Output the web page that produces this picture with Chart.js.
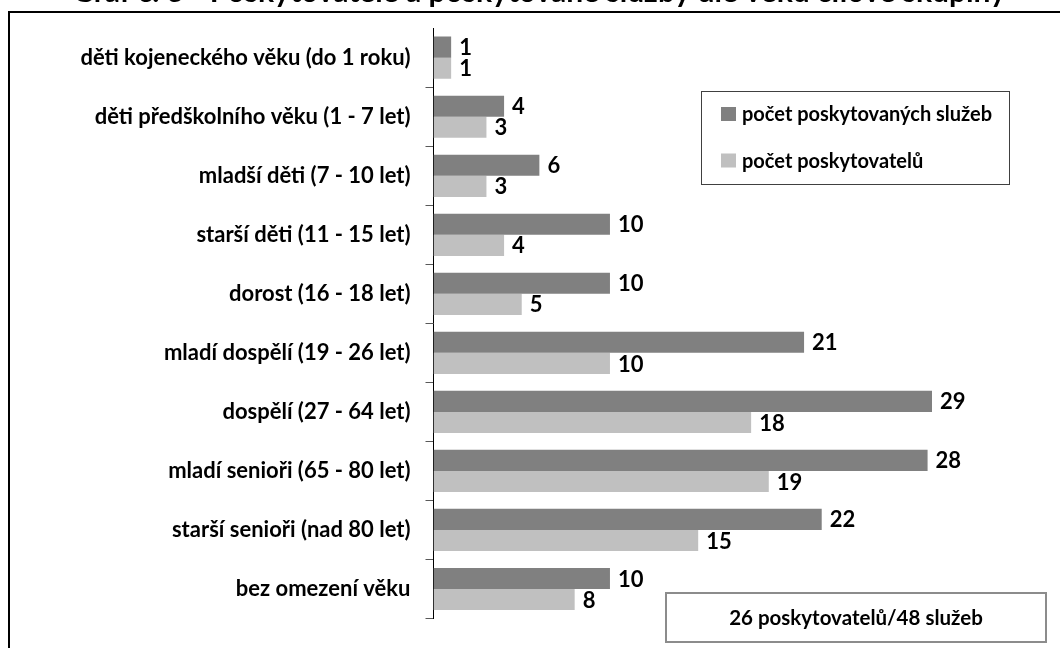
<!DOCTYPE html>
<html>
<head>
<meta charset="utf-8">
<script src="https://cdn.jsdelivr.net/npm/chart.js@4/dist/chart.umd.min.js"></script>
<style>
  html, body { margin: 0; padding: 0; background: #ffffff; }
  #wrap { position: relative; width: 1060px; height: 648px; }
</style>
</head>
<body>
<div id="wrap"><canvas id="c" width="1060" height="648"></canvas></div>
<script>
const chartTitle = 'Graf č. 3 - Poskytovatelé a poskytované služby dle věku cílové skupiny';
const categories = [
  'děti kojeneckého věku (do 1 roku)',
  'děti předškolního věku (1 - 7 let)',
  'mladší děti (7 - 10 let)',
  'starší děti (11 - 15 let)',
  'dorost (16 - 18 let)',
  'mladí dospělí (19 - 26 let)',
  'dospělí (27 - 64 let)',
  'mladí senioři (65 - 80 let)',
  'starší senioři (nad 80 let)',
  'bez omezení věku'
];
const seriesNames = ['počet poskytovaných služeb', 'počet poskytovatelů'];
const sluzby = [1, 4, 6, 10, 10, 21, 29, 28, 22, 10];
const poskytovatele = [1, 3, 3, 4, 5, 10, 18, 19, 15, 8];
const summaryText = '26 poskytovatelů/48 služeb';

const FONT = 'Lato, "Open Sans", sans-serif';
const DARK = '#808080';
const LIGHT = '#c0c0c0';

const framePlugin = {
  id: 'frame',
  beforeDraw(chart) {
    const ctx = chart.ctx;
    ctx.save();
    ctx.fillStyle = '#ffffff';
    ctx.fillRect(0, 0, chart.width, chart.height);
    ctx.strokeStyle = '#000000';
    ctx.lineWidth = 2;
    ctx.strokeRect(9, 12, chart.width + 20, chart.height + 20);
    ctx.fillStyle = '#000000';
    ctx.font = 'bold 30px ' + FONT;
    ctx.textAlign = 'center';
    ctx.textBaseline = 'alphabetic';
    ctx.fillText(chartTitle, 539, 2);
    ctx.restore();
  }
};

const labelPlugin = {
  id: 'barLabels',
  afterDatasetsDraw(chart) {
    const ctx = chart.ctx;
    const area = chart.chartArea;
    ctx.save();
    ctx.fillStyle = '#000000';
    ctx.font = 'bold 22px ' + FONT;
    ctx.textAlign = 'left';
    ctx.textBaseline = 'middle';
    chart.data.datasets.forEach((ds, di) => {
      const meta = chart.getDatasetMeta(di);
      meta.data.forEach((bar, i) => {
        const x = Math.min(bar.x, area.right) + 8;
        ctx.fillText(String(ds.data[i]), x, bar.y + 1);
      });
    });
    ctx.restore();
  }
};

const boxesPlugin = {
  id: 'boxes',
  afterDraw(chart) {
    const ctx = chart.ctx;
    ctx.save();
    // legend box
    ctx.fillStyle = '#ffffff';
    ctx.fillRect(701, 91, 308, 93);
    ctx.strokeStyle = '#404040';
    ctx.lineWidth = 1;
    ctx.strokeRect(701.5, 91.5, 308, 93);
    const ys = [114, 160.5];
    ctx.font = 'bold 20px ' + FONT;
    ctx.textAlign = 'left';
    ctx.textBaseline = 'middle';
    chart.data.datasets.forEach((ds, i) => {
      ctx.fillStyle = ds.backgroundColor;
      ctx.fillRect(721, ys[i] - 7, 15, 14);
      ctx.fillStyle = '#000000';
      ctx.fillText(ds.label, 742, ys[i] + 1);
    });
    // summary box
    ctx.fillStyle = '#ffffff';
    ctx.fillRect(666, 593, 380, 49);
    ctx.strokeStyle = '#8c8c8c';
    ctx.lineWidth = 2;
    ctx.strokeRect(666, 593, 380, 49);
    ctx.fillStyle = '#000000';
    ctx.font = 'bold 20.5px ' + FONT;
    ctx.textAlign = 'center';
    ctx.fillText(summaryText, 856, 618);
    ctx.restore();
  }
};

new Chart(document.getElementById('c'), {
  type: 'bar',
  data: {
    labels: categories,
    datasets: [
      { label: seriesNames[0], data: sluzby, backgroundColor: DARK, clip: 0,
        categoryPercentage: 0.715, barPercentage: 1.0 },
      { label: seriesNames[1], data: poskytovatele, backgroundColor: LIGHT, clip: 0,
        categoryPercentage: 0.715, barPercentage: 1.0 }
    ]
  },
  options: {
    indexAxis: 'y',
    responsive: false,
    animation: false,
    devicePixelRatio: 1,
    layout: { padding: { top: 21.5, bottom: 29.5, right: 128, left: 0 } },
    plugins: {
      legend: { display: false },
      title: { display: false },
      tooltip: { enabled: false }
    },
    scales: {
      x: {
        display: false,
        min: 0,
        max: 28.25
      },
      y: {
        afterFit(scale) { scale.width = 433.5; },
        border: { display: true, color: '#000000', width: 1 },
        grid: {
          offset: true,
          drawOnChartArea: false,
          drawTicks: true,
          tickLength: 8,
          color: (c) => (c.index === 0 ? 'rgba(0,0,0,0)' : '#595959')
        },
        ticks: {
          color: '#000000',
          padding: 15,
          font: { family: FONT, size: 22, weight: 'bold' }
        }
      }
    }
  },
  plugins: [framePlugin, labelPlugin, boxesPlugin]
});
</script>
</body>
</html>
